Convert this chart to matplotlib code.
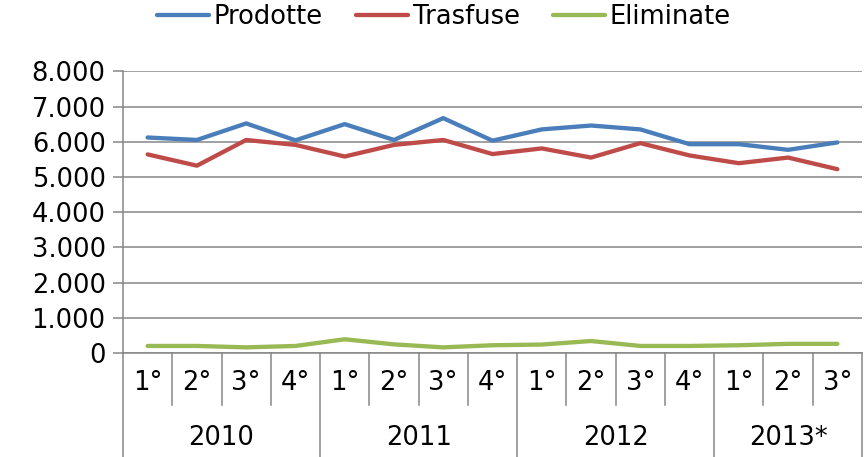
import numpy as np
import matplotlib
matplotlib.use("Agg")
import matplotlib.pyplot as plt
from matplotlib.transforms import blended_transform_factory
from matplotlib.lines import Line2D

# Quarterly data
quarters = ["1°", "2°", "3°", "4°", "1°", "2°", "3°", "4°",
            "1°", "2°", "3°", "4°", "1°", "2°", "3°"]
years = ["2010", "2011", "2012", "2013*"]
quarters_per_year = [4, 4, 4, 3]

prodotte = [6120, 6050, 6520, 6040, 6500, 6050, 6670, 6030,
            6350, 6460, 6350, 5930, 5930, 5770, 5980]
trasfuse = [5640, 5320, 6050, 5910, 5580, 5910, 6050, 5650,
            5810, 5550, 5960, 5610, 5390, 5550, 5220]
eliminate = [200, 200, 160, 200, 390, 245, 160, 220,
             240, 340, 200, 200, 220, 260, 260]

y_ticks = [0, 1000, 2000, 3000, 4000, 5000, 6000, 7000, 8000]
y_tick_labels = ["0", "1.000", "2.000", "3.000", "4.000",
                 "5.000", "6.000", "7.000", "8.000"]

series = [("Prodotte", prodotte, "#4A7EBB"),
          ("Trasfuse", trasfuse, "#BE4B48"),
          ("Eliminate", eliminate, "#98B954")]

W, H = 866, 457
fig = plt.figure(figsize=(W / 100, H / 100), dpi=100)
plt.rcParams["font.family"] = ["DejaVu Sans"]
FS = 18.5
GRID = "#868686"

left, right = 123 / W, 862 / W
top, bottom = 1 - 71.3 / H, 1 - 353 / H
ax = fig.add_axes([left, bottom, right - left, top - bottom])

x = np.arange(len(quarters))
for name, vals, col in series:
    ax.plot(x, vals, color=col, lw=3.1, label=name,
            solid_capstyle="round", solid_joinstyle="round", zorder=3)

ax.set_xlim(-0.5, len(quarters) - 0.5)
ax.set_ylim(0, 8000)
ax.set_yticks(y_ticks)
ax.set_yticklabels(y_tick_labels, fontsize=FS)
ax.yaxis.grid(True, color=GRID, lw=1.1)
ax.set_axisbelow(True)
ax.tick_params(axis="y", length=7, width=1.1, color=GRID, pad=5.5)
ax.set_xticks([])
for s in ["top", "right"]:
    ax.spines[s].set_visible(False)
for s in ["left", "bottom"]:
    ax.spines[s].set_color(GRID)
    ax.spines[s].set_linewidth(1.1)

# Two-level category axis drawn below the plot
tr = blended_transform_factory(ax.transData, fig.transFigure)
y_axis = bottom
y_qdiv = 1 - 405 / H
y_qlab = 1 - 383 / H
y_ylab = 1 - 438 / H

for i, q in enumerate(quarters):
    ax.text(i, y_qlab, q, transform=tr, ha="center", va="center",
            fontsize=FS, clip_on=False)

boundaries = np.cumsum([0] + quarters_per_year)
for b in range(len(quarters) + 1):
    xb = b - 0.5
    y_end = 0.0 if b in boundaries else y_qdiv
    ax.add_line(Line2D([xb, xb], [y_axis, y_end], transform=tr,
                       color=GRID, lw=1.1, clip_on=False))

for k, yr in enumerate(years):
    xc = (boundaries[k] + boundaries[k + 1] - 1) / 2
    ax.text(xc, y_ylab, yr, transform=tr, ha="center", va="center",
            fontsize=FS, clip_on=False)

handles, labels = ax.get_legend_handles_labels()
fig.legend(handles, labels, loc="center", bbox_to_anchor=(444 / W, 1 - 17 / H),
           ncol=3, frameon=False, fontsize=FS, handlelength=2.0,
           handletextpad=0.2, columnspacing=1.3, borderpad=0)

fig.savefig("out.png", dpi=100)
